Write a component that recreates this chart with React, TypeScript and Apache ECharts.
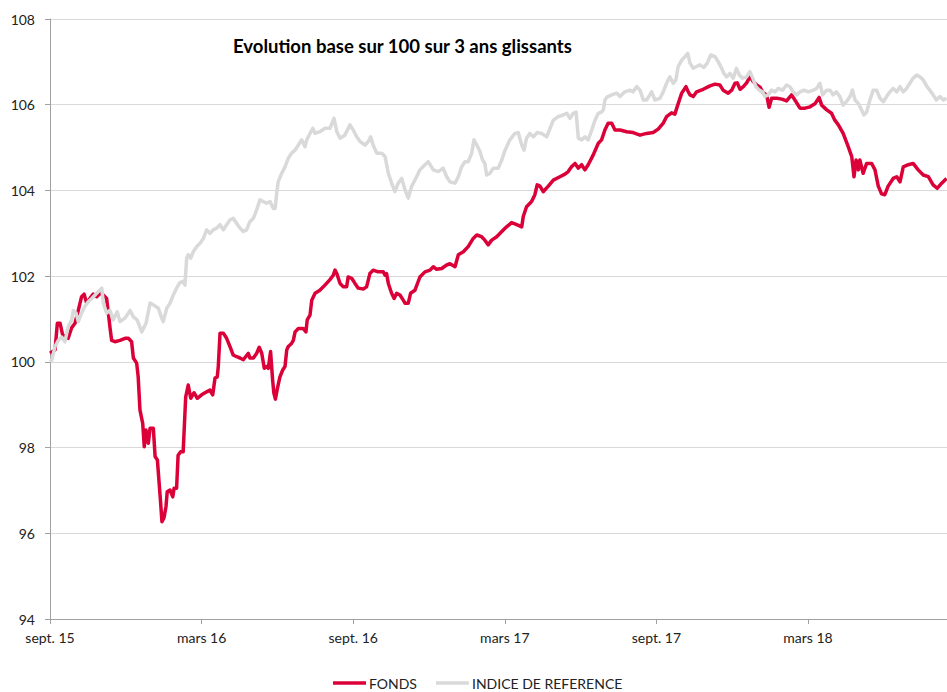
import React, { useEffect, useRef } from "react";
import * as echarts from "echarts";

// x = months since September 2015, y = base 100
const fondsPoints: [number, number][] = [
  [0, 100.2], [0.2, 100.28], [0.29, 100.9], [0.4, 100.9], [0.5, 100.63], [0.59, 100.6], [0.72, 100.55], [0.86, 100.8],
  [0.99, 100.9], [1.12, 101.2], [1.25, 101.52], [1.35, 101.58], [1.45, 101.37], [1.58, 101.48], [1.71, 101.58], [1.85, 101.52],
  [1.98, 101.6], [2.11, 101.56], [2.24, 101.48], [2.31, 101.14], [2.37, 100.82], [2.44, 100.5], [2.57, 100.47], [2.77, 100.5],
  [2.97, 100.55], [3.1, 100.55], [3.23, 100.47], [3.3, 100.09], [3.43, 99.97], [3.49, 99.65], [3.56, 98.88], [3.67, 98.56],
  [3.73, 98.02], [3.8, 98.41], [3.89, 98.1], [3.96, 98.45], [4.09, 98.45], [4.16, 97.79], [4.25, 97.71], [4.33, 97.09],
  [4.38, 96.7], [4.43, 96.27], [4.51, 96.36], [4.59, 96.62], [4.64, 96.97], [4.75, 97.01], [4.86, 96.85], [4.91, 97.05],
  [5.01, 97.05], [5.07, 97.82], [5.17, 97.9], [5.27, 97.9], [5.37, 99.18], [5.47, 99.46], [5.57, 99.15], [5.7, 99.28],
  [5.83, 99.15], [6.0, 99.23], [6.2, 99.3], [6.33, 99.34], [6.44, 99.23], [6.53, 99.62], [6.62, 99.65], [6.66, 99.89],
  [6.73, 100.67], [6.86, 100.67], [6.99, 100.55], [7.12, 100.36], [7.25, 100.16], [7.39, 100.12], [7.52, 100.09], [7.65, 100.05],
  [7.85, 100.2], [7.91, 100.09], [8.05, 100.09], [8.18, 100.2], [8.28, 100.34], [8.38, 100.2], [8.48, 99.85], [8.58, 99.89],
  [8.64, 99.85], [8.73, 100.24], [8.81, 99.58], [8.86, 99.27], [8.92, 99.13], [9.0, 99.38], [9.1, 99.65], [9.21, 99.81],
  [9.3, 99.89], [9.37, 100.28], [9.43, 100.36], [9.56, 100.43], [9.63, 100.5], [9.7, 100.7], [9.83, 100.78], [10.02, 100.78],
  [10.13, 100.7], [10.18, 100.98], [10.29, 101.09], [10.36, 101.44], [10.49, 101.6], [10.68, 101.67], [10.88, 101.79], [11.08, 101.92],
  [11.21, 102.02], [11.28, 102.14], [11.35, 102.06], [11.48, 101.83], [11.61, 101.75], [11.74, 101.75], [11.8, 101.98], [11.94, 101.95],
  [12.07, 101.83], [12.2, 101.72], [12.4, 101.7], [12.53, 101.75], [12.66, 102.06], [12.79, 102.14], [12.99, 102.1], [13.19, 102.1],
  [13.26, 102.02], [13.32, 102.06], [13.39, 101.83], [13.52, 101.6], [13.62, 101.48], [13.72, 101.6], [13.85, 101.56], [13.98, 101.44],
  [14.05, 101.37], [14.18, 101.37], [14.27, 101.6], [14.44, 101.67], [14.64, 101.98], [14.84, 102.1], [15.04, 102.14], [15.17, 102.22],
  [15.3, 102.16], [15.5, 102.18], [15.7, 102.26], [15.83, 102.29], [16.03, 102.22], [16.16, 102.5], [16.36, 102.57], [16.55, 102.69],
  [16.75, 102.88], [16.89, 102.96], [17.08, 102.92], [17.21, 102.84], [17.34, 102.73], [17.48, 102.84], [17.68, 102.92], [17.88, 103.04],
  [18.07, 103.15], [18.27, 103.25], [18.4, 103.22], [18.67, 103.15], [18.73, 103.39], [18.86, 103.62], [19.06, 103.74], [19.19, 103.9],
  [19.28, 104.13], [19.39, 104.1], [19.52, 103.97], [19.72, 104.1], [19.92, 104.24], [20.18, 104.32], [20.38, 104.38], [20.51, 104.44],
  [20.64, 104.55], [20.78, 104.63], [20.91, 104.52], [21.04, 104.6], [21.17, 104.48], [21.3, 104.6], [21.5, 104.83], [21.7, 105.1],
  [21.83, 105.18], [21.96, 105.41], [22.09, 105.57], [22.23, 105.57], [22.36, 105.41], [22.56, 105.41], [22.82, 105.37], [23.08, 105.35],
  [23.35, 105.29], [23.61, 105.33], [23.87, 105.35], [24.07, 105.43], [24.27, 105.57], [24.4, 105.72], [24.6, 105.81], [24.73, 105.78],
  [24.82, 105.95], [25.0, 106.27], [25.17, 106.42], [25.26, 106.3], [25.33, 106.23], [25.46, 106.19], [25.59, 106.3], [25.85, 106.36],
  [26.12, 106.44], [26.32, 106.48], [26.51, 106.46], [26.64, 106.34], [26.84, 106.27], [26.98, 106.34], [27.11, 106.5], [27.2, 106.51],
  [27.31, 106.36], [27.44, 106.42], [27.57, 106.51], [27.7, 106.65], [27.83, 106.54], [27.97, 106.46], [28.1, 106.41], [28.23, 106.27],
  [28.36, 106.23], [28.46, 105.94], [28.56, 106.15], [28.76, 106.15], [28.96, 106.13], [29.15, 106.09], [29.35, 106.23], [29.48, 106.11],
  [29.68, 105.92], [29.88, 105.92], [30.08, 105.95], [30.27, 106.02], [30.44, 106.17], [30.54, 105.99], [30.74, 105.88], [30.93, 105.8],
  [31.06, 105.64], [31.2, 105.53], [31.39, 105.33], [31.59, 105.02], [31.73, 104.79], [31.82, 104.32], [31.9, 104.71], [31.99, 104.48],
  [32.05, 104.71], [32.18, 104.4], [32.32, 104.63], [32.52, 104.63], [32.65, 104.48], [32.78, 104.1], [32.91, 103.92], [33.04, 103.9],
  [33.17, 104.1], [33.37, 104.28], [33.51, 104.32], [33.64, 104.2], [33.77, 104.55], [33.97, 104.6], [34.16, 104.63], [34.36, 104.48],
  [34.56, 104.36], [34.76, 104.32], [34.95, 104.13], [35.11, 104.05], [35.29, 104.17], [35.48, 104.28],
];

const indicePoints: [number, number][] = [
  [0, 100], [0.07, 100.04], [0.2, 100.36], [0.33, 100.5], [0.46, 100.58], [0.59, 100.47], [0.72, 100.82], [0.86, 100.98],
  [0.92, 101.2], [1.03, 101.14], [1.12, 100.94], [1.25, 101.14], [1.38, 101.29], [1.52, 101.41], [1.65, 101.48], [1.85, 101.6],
  [2.05, 101.72], [2.11, 101.37], [2.24, 101.14], [2.37, 101.2], [2.5, 100.98], [2.66, 101.17], [2.77, 100.94], [2.97, 101.02],
  [3.17, 101.2], [3.3, 101.05], [3.45, 100.98], [3.63, 100.7], [3.8, 100.9], [3.96, 101.37], [4.09, 101.33], [4.29, 101.25],
  [4.42, 101.02], [4.48, 100.94], [4.62, 101.25], [4.75, 101.37], [4.88, 101.56], [5.01, 101.72], [5.14, 101.85], [5.27, 101.88],
  [5.34, 101.79], [5.41, 102.42], [5.47, 102.5], [5.57, 102.42], [5.67, 102.57], [5.81, 102.69], [5.94, 102.77], [6.07, 102.88],
  [6.2, 103.08], [6.33, 103.0], [6.46, 103.08], [6.6, 103.12], [6.73, 103.2], [6.86, 103.08], [6.99, 103.2], [7.12, 103.31],
  [7.25, 103.35], [7.39, 103.23], [7.52, 103.12], [7.65, 103.04], [7.78, 103.08], [7.91, 103.27], [8.05, 103.35], [8.18, 103.55],
  [8.31, 103.78], [8.44, 103.74], [8.58, 103.7], [8.71, 103.74], [8.84, 103.58], [8.91, 103.58], [8.97, 103.93], [9.03, 104.2],
  [9.17, 104.4], [9.3, 104.55], [9.43, 104.75], [9.56, 104.87], [9.7, 104.94], [9.83, 105.06], [9.96, 105.18], [10.09, 105.02],
  [10.16, 105.18], [10.29, 105.33], [10.4, 105.45], [10.49, 105.33], [10.68, 105.37], [10.88, 105.45], [11.08, 105.45], [11.24, 105.68],
  [11.35, 105.37], [11.48, 105.22], [11.67, 105.29], [11.87, 105.53], [12.0, 105.41], [12.14, 105.25], [12.27, 105.14], [12.47, 105.06],
  [12.6, 105.14], [12.69, 105.25], [12.79, 105.06], [12.93, 104.87], [13.13, 104.87], [13.26, 104.79], [13.39, 104.4], [13.52, 104.17],
  [13.65, 103.97], [13.78, 104.17], [13.92, 104.28], [14.05, 104.01], [14.18, 103.82], [14.31, 104.09], [14.51, 104.32], [14.64, 104.48],
  [14.84, 104.6], [14.97, 104.67], [15.17, 104.48], [15.37, 104.44], [15.56, 104.52], [15.7, 104.32], [15.83, 104.2], [16.03, 104.17],
  [16.16, 104.32], [16.29, 104.55], [16.42, 104.67], [16.55, 104.67], [16.69, 104.87], [16.78, 105.18], [16.89, 105.06], [17.02, 104.9],
  [17.12, 104.71], [17.21, 104.63], [17.28, 104.36], [17.41, 104.4], [17.54, 104.52], [17.74, 104.52], [17.88, 104.71], [18.01, 104.94],
  [18.2, 105.18], [18.4, 105.33], [18.53, 105.35], [18.67, 105.06], [18.76, 104.94], [18.86, 105.22], [18.99, 105.33], [19.13, 105.25],
  [19.28, 105.35], [19.46, 105.33], [19.66, 105.25], [19.79, 105.45], [19.92, 105.64], [20.11, 105.72], [20.31, 105.76], [20.45, 105.8],
  [20.58, 105.68], [20.71, 105.8], [20.82, 105.83], [20.91, 105.22], [21.04, 105.18], [21.17, 105.25], [21.3, 105.18], [21.44, 105.41],
  [21.57, 105.64], [21.7, 105.8], [21.83, 105.83], [21.9, 105.88], [21.96, 106.1], [22.03, 106.17], [22.23, 106.23], [22.43, 106.27],
  [22.56, 106.19], [22.75, 106.3], [22.95, 106.34], [23.08, 106.3], [23.22, 106.42], [23.35, 106.34], [23.48, 106.11], [23.61, 106.11],
  [23.74, 106.23], [23.81, 106.3], [23.94, 106.11], [24.14, 106.15], [24.27, 106.3], [24.4, 106.5], [24.53, 106.65], [24.67, 106.5],
  [24.77, 106.58], [24.86, 106.89], [25.0, 107.04], [25.13, 107.12], [25.24, 107.2], [25.33, 106.97], [25.46, 106.85], [25.59, 106.89],
  [25.72, 106.93], [25.88, 106.87], [26.01, 106.97], [26.15, 107.16], [26.32, 107.12], [26.45, 107.0], [26.58, 106.85], [26.67, 106.73],
  [26.78, 106.65], [26.91, 106.73], [27.04, 106.62], [27.17, 106.85], [27.28, 106.69], [27.41, 106.62], [27.57, 106.65], [27.7, 106.77],
  [27.81, 106.62], [27.94, 106.42], [28.07, 106.34], [28.2, 106.3], [28.29, 106.19], [28.42, 106.23], [28.56, 106.34], [28.69, 106.3],
  [28.82, 106.38], [28.99, 106.34], [29.15, 106.46], [29.28, 106.42], [29.41, 106.3], [29.55, 106.23], [29.68, 106.3], [29.84, 106.34],
  [30.01, 106.3], [30.21, 106.34], [30.34, 106.38], [30.47, 106.5], [30.58, 106.23], [30.74, 106.34], [30.87, 106.34], [30.99, 106.23],
  [31.12, 106.3], [31.26, 106.19], [31.39, 105.99], [31.52, 106.07], [31.66, 106.19], [31.76, 106.34], [31.86, 106.11], [31.99, 106.03],
  [32.12, 105.88], [32.21, 105.76], [32.32, 105.83], [32.45, 106.11], [32.58, 106.34], [32.71, 106.34], [32.85, 106.15], [32.98, 106.07],
  [33.11, 106.19], [33.24, 106.3], [33.37, 106.38], [33.51, 106.3], [33.64, 106.42], [33.77, 106.3], [33.9, 106.38], [34.03, 106.5],
  [34.16, 106.62], [34.3, 106.69], [34.43, 106.65], [34.56, 106.58], [34.71, 106.42], [34.82, 106.34], [34.95, 106.23], [35.08, 106.11],
  [35.22, 106.19], [35.35, 106.11], [35.48, 106.15],
];

const tickMonths = [0, 6, 12, 18, 24, 30];
const tickLabels = ["sept. 15", "mars 16", "sept. 16", "mars 17", "sept. 17", "mars 18"];
const seriesNames = ["FONDS", "INDICE DE REFERENCE"];
const titleText = "Evolution base sur 100 sur 3 ans glissants";

const FONT = "Lato, 'Open Sans', sans-serif";

export default function App() {
  const ref = useRef<HTMLDivElement>(null);
  useEffect(() => {
    if (!ref.current) return;
    const chart = echarts.init(ref.current, undefined, { renderer: "svg" });
    chart.setOption({
      animation: false,
      backgroundColor: "#ffffff",
      title: {
        text: titleText,
        left: 228,
        top: 31,
        textStyle: { fontFamily: FONT, fontWeight: "bold", fontSize: 18.5, color: "#000" },
      },
      legend: {
        data: seriesNames,
        left: 328,
        top: 671,
        icon: "rect",
        itemWidth: 33,
        itemHeight: 3.5,
        itemGap: 19,
        textStyle: { fontFamily: FONT, fontSize: 14, color: "#222", padding: [0, 0, 0, -2] },
      },
      grid: { left: 50, right: 0, top: 19, bottom: 73 },
      xAxis: {
        type: "value",
        min: 0,
        max: 35.5,
        interval: 6,
        axisLine: { show: true, onZero: false, lineStyle: { color: "#a0a0a0", width: 1 } },
        axisTick: { show: true, length: 5, customValues: tickMonths, lineStyle: { color: "#a0a0a0" } },
        axisLabel: {
          customValues: tickMonths,
          margin: 11,
          fontFamily: FONT,
          fontSize: 14,
          color: "#222",
          formatter: (v: number) => {
            const i = tickMonths.indexOf(Math.round(v));
            return i >= 0 ? tickLabels[i] : "";
          },
        },
        splitLine: { show: false },
      },
      yAxis: {
        type: "value",
        min: 94,
        max: 108,
        interval: 2,
        axisLine: { show: true, lineStyle: { color: "#a0a0a0", width: 1 } },
        axisTick: { show: true, length: 5, lineStyle: { color: "#a0a0a0" } },
        axisLabel: { margin: 15, fontFamily: FONT, fontSize: 14, color: "#222" },
        splitLine: { show: true, lineStyle: { color: "#d9d9d9", width: 1 } },
      },
      series: [
        {
          name: seriesNames[0],
          type: "line",
          data: fondsPoints,
          symbol: "none",
          color: "#dc0039",
          lineStyle: { width: 3.5, color: "#dc0039", join: "round" },
        },
        {
          name: seriesNames[1],
          type: "line",
          data: indicePoints,
          symbol: "none",
          color: "#d9d9d9",
          lineStyle: { width: 3.5, color: "#d9d9d9", join: "round" },
        },
      ],
    });
    return () => chart.dispose();
  }, []);
  return (
    <div
      ref={ref}
      style={{ position: "fixed", left: 0, top: 0, width: 947, height: 692, background: "#fff" }}
    />
  );
}
